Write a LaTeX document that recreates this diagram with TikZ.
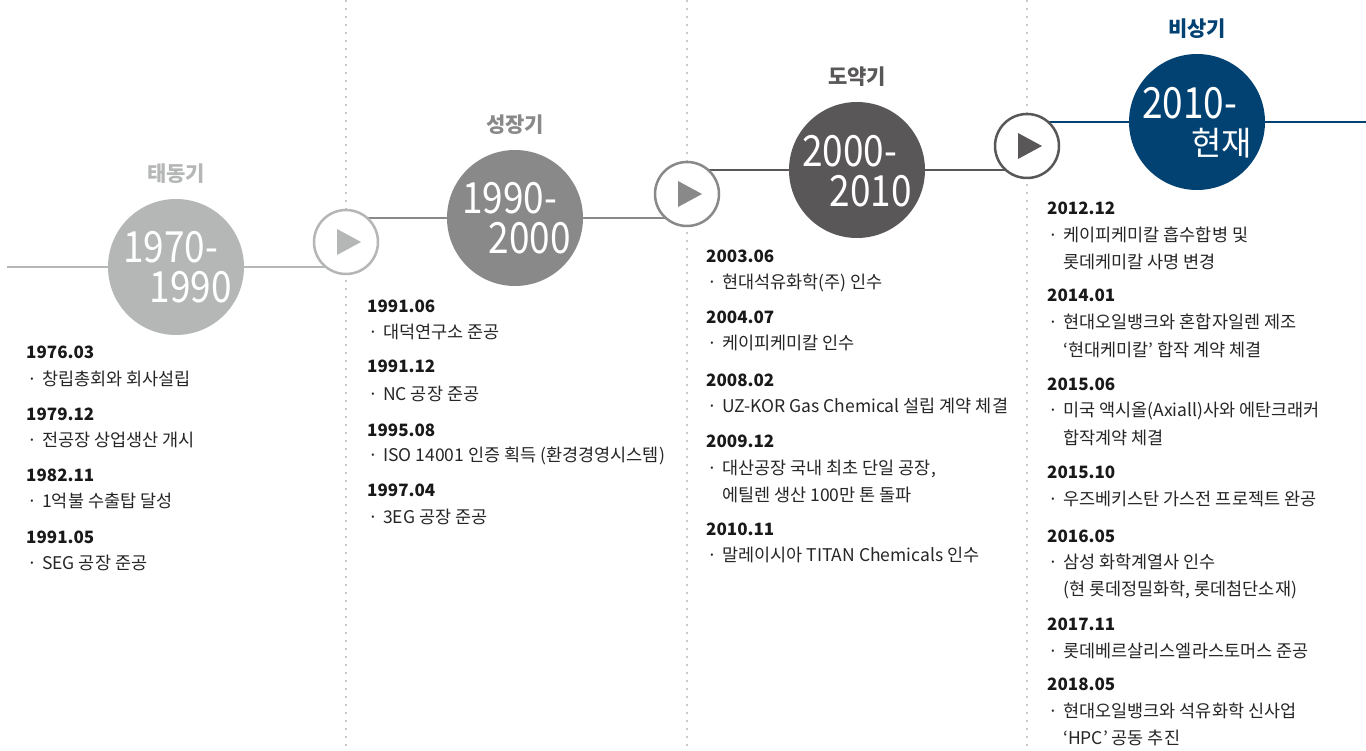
\documentclass[tikz,border=0pt]{standalone}
\usepackage{fontspec}
\setmainfont{Noto Sans CJK KR}
\newfontfamily\yearfont{Noto Sans CJK KR}[FakeStretch=0.86]
\usetikzlibrary{positioning,calc}

\definecolor{stageA}{RGB}{181,182,182}
\definecolor{stageB}{RGB}{137,137,137}
\definecolor{stageC}{RGB}{89,87,87}
\definecolor{stageD}{RGB}{2,66,114}
\definecolor{dotgray}{RGB}{200,200,200}

\newcommand{\bul}{\makebox[16pt][l]{\hspace{1pt}·}}
\newcommand{\cont}{\hspace*{16pt}}

\tikzset{
  period/.style={circle, fill=#1, minimum size=136pt, inner sep=0pt},
  nextbtn/.style={circle, draw=#1, line width=2.5pt, fill=white, minimum size=64pt, inner sep=0pt},
  stage/.style={font=\fontsize{21}{24}\selectfont\bfseries, text=#1, inner sep=0pt},
  yr/.style={font=\yearfont\fontsize{43}{43}\selectfont, text=white, inner sep=0pt},
  yrk/.style={font=\fontsize{33}{33}\selectfont, text=white, inner sep=0pt},
  date/.style={anchor=base west, inner sep=0pt, font=\fontsize{17}{20}\selectfont\bfseries, text=black!90},
  item/.style={anchor=base west, inner sep=0pt, font=\fontsize{17.5}{20}\selectfont, text=black!85},
  track/.style={line width=2.5pt, draw=#1},
  guide/.style={draw=dotgray, line width=2pt, dash pattern=on 2pt off 6pt}
}

\begin{document}
\begin{tikzpicture}[x=1pt,y=-1pt]
  \useasboundingbox[fill=white] (0,0) rectangle (1366,751);

  % dotted separators
  \foreach \gx in {346,687,1027}
    \draw[guide] (\gx,0) -- (\gx,751);

  % centres of the periods and of the buttons
  \coordinate (p1) at (176,267);
  \coordinate (p2) at (515,218);
  \coordinate (p3) at (857,170);
  \coordinate (p4) at (1197,122);
  \coordinate (b1) at (346,242);
  \coordinate (b2) at (687,194);
  \coordinate (b3) at (1027,146);
  \coordinate (start) at (7,267);
  \coordinate (finish) at (1366,122);

  % time line
  \draw[track=stageA] (start) -- (p1) -- (p1 -| b1);
  \draw[track=stageB] (b1 |- p2) -- (p2) -- (p2 -| b2);
  \draw[track=stageC] (b2 |- p3) -- (p3) -- (p3 -| b3);
  \draw[track=stageD] (b3 |- p4) -- (p4) -- (finish);

  % periods
  \node[period=stageA] (c1) at (p1) {};
  \node[period=stageB] (c2) at (p2) {};
  \node[period=stageC] (c3) at (p3) {};
  \node[period=stageD] (c4) at (p4) {};

  \node[nextbtn=stageA] (a1) at (b1) {};
  \node[nextbtn=stageB] (a2) at (b2) {};
  \node[nextbtn=stageC] (a3) at (b3) {};
  \foreach \b/\c in {a1/stageA,a2/stageB,a3/stageC}
    \fill[\c] ($(\b)+(-9,-13)$) -- ++(0,26) -- ++(24,-13) -- cycle;

  \node[stage=stageA, above=15pt of c1] (t1) {태동기};
  \node[stage=stageB, above=15pt of c2] (t2) {성장기};
  \node[stage=stageC, above=15pt of c3] (t3) {도약기};
  \node[stage=stageD, above=15pt of c4] (t4) {비상기};

  \node[yr, anchor=west] (y1a) at ($(c1)+(-53,-20)$) {1970-};
  \node[yr, anchor=east] (y1b) at ($(c1)+(56,20)$) {1990};
  \node[yr, anchor=west] (y2a) at ($(c2)+(-53,-20)$) {1990-};
  \node[yr, anchor=east] (y2b) at ($(c2)+(56,20)$) {2000};
  \node[yr, anchor=west] (y3a) at ($(c3)+(-55,-19)$) {2000-};
  \node[yr, anchor=east] (y3b) at ($(c3)+(55,21)$) {2010};
  \node[yr, anchor=west] (y4a) at ($(c4)+(-55,-19)$) {2010-};
  \node[yrk, anchor=east] (y4b) at ($(c4)+(55,21)$) {현재};

  % 1970-1990
  \node[date] (d11) at (26,359) {1976.03};
  \node[item] (i11) at (26,385) {\bul 창립총회와 회사설립};
  \node[date] (d12) at (26,420) {1979.12};
  \node[item] (i12) at (26,446) {\bul 전공장 상업생산 개시};
  \node[date] (d13) at (26,481) {1982.11};
  \node[item] (i13) at (26,507) {\bul 1억불 수출탑 달성};
  \node[date] (d14) at (26,543) {1991.05};
  \node[item] (i14) at (26,569) {\bul SEG 공장 준공};

  % 1990-2000
  \node[date] (d21) at (367,313) {1991.06};
  \node[item] (i21) at (367,339) {\bul 대덕연구소 준공};
  \node[date] (d22) at (367,373) {1991.12};
  \node[item] (i22) at (367,400) {\bul NC 공장 준공};
  \node[date] (d23) at (367,436) {1995.08};
  \node[item] (i23) at (367,461) {\bul ISO 14001 인증 획득 (환경경영시스템)};
  \node[date] (d24) at (367,496) {1997.04};
  \node[item] (i24) at (367,523) {\bul 3EG 공장 준공};

  % 2000-2010
  \node[date] (d31) at (706,263) {2003.06};
  \node[item] (i31) at (706,289) {\bul 현대석유화학(주) 인수};
  \node[date] (d32) at (706,324) {2004.07};
  \node[item] (i32) at (706,350) {\bul 케이피케미칼 인수};
  \node[date] (d33) at (706,387) {2008.02};
  \node[item] (i33) at (706,413) {\bul UZ-KOR Gas Chemical 설립 계약 체결};
  \node[date] (d34) at (706,447) {2009.12};
  \node[item] (i34) at (706,474) {\bul 대산공장 국내 최초 단일 공장,};
  \node[item] (i34b) at (706,501) {\cont 에틸렌 생산 100만 톤 돌파};
  \node[date] (d35) at (706,535) {2010.11};
  \node[item] (i35) at (706,561) {\bul 말레이시아 TITAN Chemicals 인수};

  % 2010-
  \node[date] (d41) at (1047,215) {2012.12};
  \node[item] (i41) at (1047,242) {\bul 케이피케미칼 흡수합병 및};
  \node[item] (i41b) at (1047,269) {\cont 롯데케미칼 사명 변경};
  \node[date] (d42) at (1047,302) {2014.01};
  \node[item] (i42) at (1047,329) {\bul 현대오일뱅크와 혼합자일렌 제조};
  \node[item] (i42b) at (1047,356) {\cont ‘현대케미칼’ 합작 계약 체결};
  \node[date] (d43) at (1047,390) {2015.06};
  \node[item] (i43) at (1047,417) {\bul 미국 액시올(Axiall)사와 에탄크래커};
  \node[item] (i43b) at (1047,444) {\cont 합작계약 체결};
  \node[date] (d44) at (1047,478) {2015.10};
  \node[item] (i44) at (1047,505) {\bul 우즈베키스탄 가스전 프로젝트 완공};
  \node[date] (d45) at (1047,542) {2016.05};
  \node[item] (i45) at (1047,568) {\bul 삼성 화학계열사 인수};
  \node[item] (i45b) at (1047,595) {\cont (현 롯데정밀화학, 롯데첨단소재)};
  \node[date] (d46) at (1047,630) {2017.11};
  \node[item] (i46) at (1047,657) {\bul 롯데베르살리스엘라스토머스 준공};
  \node[date] (d47) at (1047,690) {2018.05};
  \node[item] (i47) at (1047,717) {\bul 현대오일뱅크와 석유화학 신사업};
  \node[item] (i47b) at (1047,744) {\cont ‘HPC’ 공동 추진};
\end{tikzpicture}
\end{document}
